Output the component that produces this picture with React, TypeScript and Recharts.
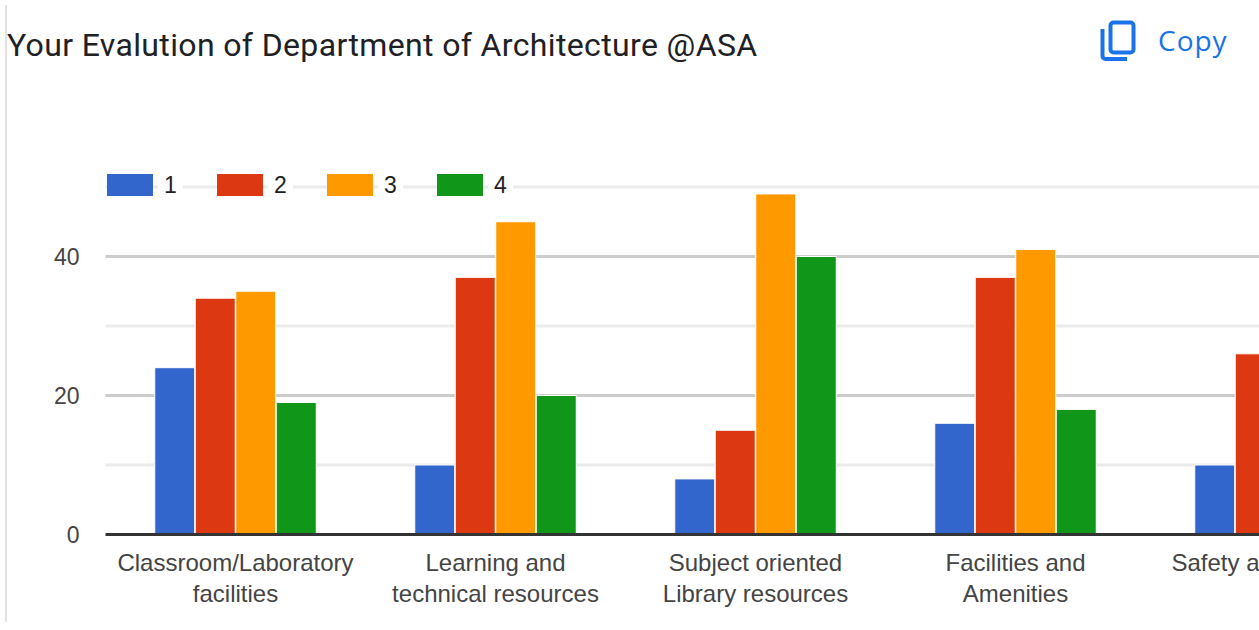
import { BarChart, Bar, XAxis, YAxis, CartesianGrid } from 'recharts'

const TITLE = 'Your Evalution of Department of Architecture @ASA'

const CATEGORIES = [
  'Classroom/Laboratory|facilities',
  'Learning and|technical resources',
  'Subject oriented|Library resources',
  'Facilities and|Amenities',
  'Safety and Security',
]
const SERIES_1 = [24, 10, 8, 16, 10]
const SERIES_2 = [34, 37, 15, 37, 26]
const SERIES_3 = [35, 45, 49, 41, 38] // last one is cropped off
const SERIES_4 = [19, 20, 40, 18, 22] // last one is cropped off

const SERIES_NAMES = ['1', '2', '3', '4']
const COLOURS = ['#3366cc', '#dc3912', '#ff9900', '#109618']
const MAJOR_TICKS = [0, 20, 40]
const MINOR_TICKS = [10, 30, 50]

const data = CATEGORIES.map((name, i) => ({
  name,
  '1': SERIES_1[i],
  '2': SERIES_2[i],
  '3': SERIES_3[i],
  '4': SERIES_4[i],
}))

const FONT = '"Liberation Sans", Arial, sans-serif'

function CategoryTick({ x, y, payload }: any) {
  const lines = String(payload.value).split('|')
  return (
    <text x={x} y={y} textAnchor="middle" fontFamily={FONT} fontSize={24} fill="#444">
      {lines.map((line, i) => (
        <tspan key={line} x={x} dy={i === 0 ? 28 : 31.5}>{line}</tspan>
      ))}
    </text>
  )
}

export default function App() {
  return (
    <div style={{ position: 'absolute', left: 0, top: 0, width: 1259, height: 630, overflow: 'hidden', background: '#fff' }}>
      <div style={{ position: 'absolute', left: 5, top: 5, width: 1.5, height: 617, background: '#e3e3e3' }} />

      <div style={{ position: 'absolute', left: 7, top: 26, fontFamily: 'Roboto, sans-serif', fontSize: 32, letterSpacing: 0.36, lineHeight: '38px', color: '#202124', whiteSpace: 'nowrap' }}>
        {TITLE}
      </div>

      {/* copy button */}
      <svg style={{ position: 'absolute', left: 1100, top: 20 }} width={36} height={42} viewBox="0 0 36 42">
        <rect x={10.5} y={2.5} width={23} height={30} rx={3} fill="none" stroke="#1a73e8" strokeWidth={4} />
        <path d="M2.5 9 V36 a3 3 0 0 0 3 3 H27" fill="none" stroke="#1a73e8" strokeWidth={4} />
      </svg>
      <div style={{ position: 'absolute', left: 1158, top: 22, fontFamily: '"Open Sans", sans-serif', fontSize: 28, fontWeight: 500, letterSpacing: 1, lineHeight: '36px', color: '#1a73e8' }}>
        Copy
      </div>

      <div style={{ position: 'absolute', left: 0, top: 0 }}>
        <BarChart
          width={1420}
          height={630}
          data={data}
          margin={{ top: 187, right: 14.5, bottom: 0, left: 0 }}
          barCategoryGap={49.25}
          barGap={0.5}
        >
          <CartesianGrid vertical={false} horizontalValues={MINOR_TICKS} stroke="#ebebeb" strokeWidth={3} />
          <CartesianGrid vertical={false} horizontalValues={[20, 40]} stroke="#cccccc" strokeWidth={3} />
          <XAxis
            dataKey="name"
            height={95.5}
            interval={0}
            tick={<CategoryTick />}
            tickLine={false}
            axisLine={{ stroke: '#333', strokeWidth: 3 }}
          />
          <YAxis
            width={105.5}
            domain={[0, 50]}
            ticks={MAJOR_TICKS}
            axisLine={false}
            tickLine={false}
            tickSize={0}
            tickMargin={26}
            tick={{ fill: '#444', fontSize: 23, fontFamily: FONT }}
          />
          {SERIES_NAMES.map((s, i) => (
            <Bar key={s} dataKey={s} fill={COLOURS[i]} stroke="#ffffff" strokeWidth={1} isAnimationActive={false} />
          ))}
        </BarChart>
      </div>

      {/* legend */}
      <div style={{ position: 'absolute', left: 107, top: 174, display: 'flex' }}>
        {SERIES_NAMES.map((s, i) => (
          <div key={s} style={{ width: 110, height: 22, position: 'relative' }}>
            <div style={{ position: 'absolute', left: 0, top: 0, width: 46, height: 22, background: COLOURS[i] }} />
            <span style={{ position: 'absolute', left: 51, top: -2, padding: '0 6px', background: '#fff', fontFamily: FONT, fontSize: 23, lineHeight: '26px', color: '#222' }}>
              {s}
            </span>
          </div>
        ))}
      </div>
    </div>
  )
}
